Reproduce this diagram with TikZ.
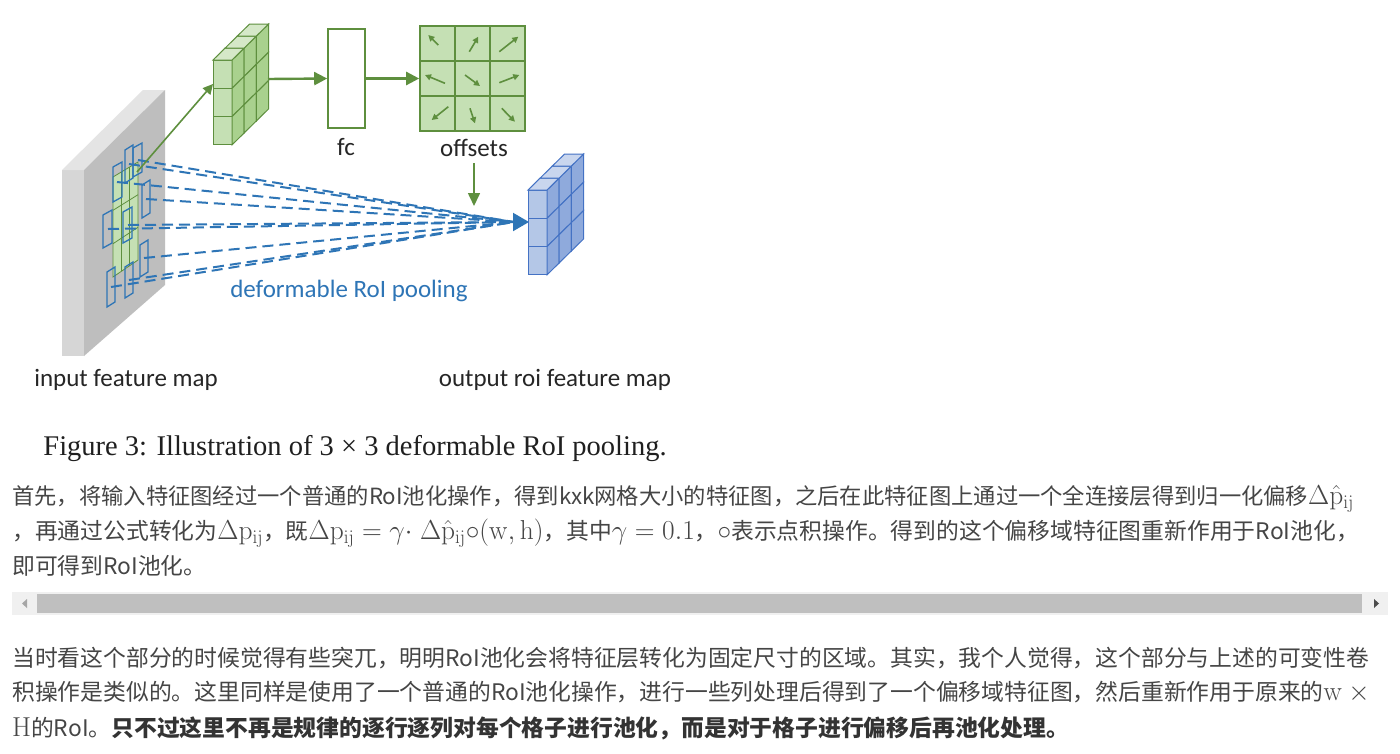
\RequirePackage{fix-cm}
\documentclass[tikz,border=0pt]{standalone}
\usepackage[no-math]{fontspec}
\newfontfamily\cjk{Noto Sans CJK SC}
\newfontfamily\capfont{Liberation Serif}
\newfontfamily\lblfont{Carlito}
\usetikzlibrary{arrows.meta}
\definecolor{gline}{HTML}{5E8F3E}
\definecolor{gfront}{HTML}{C5E0B4}
\definecolor{gside}{HTML}{A9D18E}
\definecolor{gtop}{HTML}{D5E8C8}
\definecolor{bline}{HTML}{2E75B6}
\definecolor{bfront}{HTML}{B4C7E7}
\definecolor{bside}{HTML}{8FAADC}
\definecolor{btop}{HTML}{C9D6EE}
\definecolor{bedge}{HTML}{4472C4}
\definecolor{txt}{HTML}{454545}
\definecolor{slabfront}{HTML}{D6D6D6}
\definecolor{slabtop}{HTML}{E4E4E4}
\definecolor{slabside}{HTML}{BEBEBE}
\newcommand{\cubeslab}[6]{%
  \foreach \i in {0,1,2}{%
    \filldraw[fill=#3,draw=#6,line width=1pt] (#1,{#2+\i*28.3}) rectangle ++(19,28.3);
    \foreach \j in {0,1,2}{%
      \filldraw[fill=#4,draw=#6,line width=1pt] ({#1+19+\j*12.2},{#2+\i*28.3-\j*12}) -- ++(12.2,-12) -- ++(0,28.3) -- ++(-12.2,12) -- cycle;
    }
  }
  \foreach \j in {0,1,2}{%
    \filldraw[fill=#5,draw=#6,line width=1pt] ({#1+\j*12.2},{#2-\j*12}) -- ++(19,0) -- ++(12.2,-12) -- ++(-19,0) -- cycle;
  }
}
\newcommand{\binbox}[4]{% x0 x1 y0 y1
  \draw[bline,line width=1.3pt] (#1,{#3+5}) -- (#2,#3) -- (#2,{#4-5}) -- (#1,#4) -- cycle;
}
\newcommand{\mth}[1]{\smash{\fontsize{27.4}{27}\selectfont$#1$}}
\tikzset{
  body/.style={anchor=base west, inner sep=0, text=txt, font=\cjk\fontsize{22.8}{27}\selectfont},
  lbl/.style={anchor=base, inner sep=0, text=black!85, font=\lblfont\fontsize{25}{30}\selectfont},
  garrow/.style={draw=gline, line width=2.4pt, -{Triangle[length=13pt,width=13pt]}},
  smallarrow/.style={draw=gline, line width=1.6pt, -{Triangle[length=6pt,width=6pt]}},
  bdash/.style={draw=bline, line width=2pt, dash pattern=on 11pt off 6pt},
}
\begin{document}
\begin{tikzpicture}[x=1pt,y=-1pt]
\fill[white] (0,0) rectangle (1400,753);
\useasboundingbox (0,0) rectangle (1400,753);

% input feature map slab
\fill[slabfront] (62,170) rectangle (84,356);
\fill[slabtop] (62,170) -- (143,90) -- (165,90) -- (84,170) -- cycle;
\fill[slabside] (84,170) -- (165,90) -- (165,285) -- (84,356) -- cycle;

% green RoI grid on the slab
\filldraw[fill=gfront,draw=gline,line width=0.8pt] (113,177) -- (138,162) -- (138,260) -- (113,277) -- cycle;
\draw[gline,line width=0.8pt] (121.3,172) -- (121.3,271.3) (129.7,167) -- (129.7,265.7);
\draw[gline,line width=0.8pt] (113,210.3) -- (138,194.7) (113,243.7) -- (138,227.3);

% deformed bins
\binbox{113}{122}{162}{202}
\binbox{125}{133}{145}{183}
\binbox{133}{142}{143}{177}
\binbox{142}{150}{180}{218}
\binbox{103}{112}{210}{248}
\binbox{123}{132}{207}{243}
\binbox{140}{148}{240}{277}
\binbox{107}{115}{267}{307}
\binbox{125}{133}{262}{298}

% dashed lines to output
\coordinate (tip) at (514,222);
\coordinate (b1) at (117,182);
\coordinate (b2) at (129,164);
\coordinate (b3) at (138,160);
\coordinate (b4) at (146,199);
\coordinate (b5) at (108,229);
\coordinate (b6) at (128,225);
\coordinate (b7) at (144,258);
\coordinate (b8) at (111,287);
\coordinate (b9) at (129,280);
\foreach \b in {b1,b2,b3,b4,b5,b6,b7,b8,b9}{\draw[bdash] (\b) -- (tip);}
\coordinate (ahS) at (505,222);
\coordinate (ahE) at (529,222);
\draw[draw=bline,line width=2pt,-{Triangle[length=16pt,width=18pt]}] (ahS) -- (ahE);

% green line from RoI to pooled block
\coordinate (roiTR) at (137,172);
\coordinate (gblkL) at (213,84);
\draw[draw=gline,line width=1.6pt,-{Triangle[length=10pt,width=10pt]}] (roiTR) -- (gblkL);

% green pooled block
\cubeslab{213}{60}{gfront}{gside}{gtop}{gline}
\coordinate (gblkR) at (268,79);

% fc
\node[draw=gline,line width=1.6pt,fill=white,minimum width=37pt,minimum height=99pt,inner sep=0] (fc) at (346.5,78.5) {};
\draw[garrow] (gblkR) -- (fc.west);

% offsets grid
\node[draw=gline,line width=1.6pt,fill=gfront,minimum width=105pt,minimum height=105pt,inner sep=0] (off) at (472.5,78.5) {};
\draw[gline,line width=1.6pt] (455,26) -- (455,131) (490,26) -- (490,131) (420,61) -- (525,61) (420,96) -- (525,96);
\draw[garrow] (fc.east) -- (off.west);
\draw[smallarrow] (438.3,45) -- (428.3,35);
\draw[smallarrow] (469.3,51.7) -- (478.3,36.7);
\draw[smallarrow] (499.3,51.7) -- (518.3,36.7);
\draw[smallarrow] (445,83.3) -- (425,75);
\draw[smallarrow] (465,75) -- (480,86);
\draw[smallarrow] (499.3,82.7) -- (519.3,75);
\draw[smallarrow] (448.3,106.7) -- (431.7,120);
\draw[smallarrow] (470,108.3) -- (475,123.3);
\draw[smallarrow] (501.7,108.3) -- (515,121.7);

\node[lbl] (fclbl) at (346,155) {fc};
\node[lbl] (offlbl) at (474,156) {offsets};
\coordinate (offS) at (474,163);
\coordinate (offE) at (474,206);
\draw[draw=gline,line width=1.6pt,-{Triangle[length=13pt,width=12pt]}] (offS) -- (offE);

% blue output block
\cubeslab{528}{190}{bfront}{bside}{btop}{bedge}

% labels
\node[lbl,text=bline] (dlbl) at (349,297) {deformable RoI pooling};
\node[lbl] (inlbl) at (126,386) {input feature map};
\node[lbl] (outlbl) at (555,386) {output roi feature map};

% caption
\node[anchor=base,inner sep=0,font=\capfont\fontsize{28.5}{34}\selectfont,text=black!88] (cap) at (355,455) {Figure 3: Illustration of 3 × 3 deformable RoI pooling.};

% paragraph 1
\node[body,font=\cjk\fontsize{22.3}{27}\selectfont] (p1a) at (12,504) {首先，将输入特征图经过一个普通的RoI池化操作，得到kxk网格大小的特征图，之后在此特征图上通过一个全连接层得到归一化偏移\mth{\Delta\hat{\mathrm{p}}_{\mathrm{ij}}}};
\node[body] (p1b) at (12,539) {，再通过公式转化为\mth{\Delta\mathrm{p}_{\mathrm{ij}}}，既\mth{\Delta\mathrm{p}_{\mathrm{ij}}=\gamma{\cdot}\;\Delta\hat{\mathrm{p}}_{\mathrm{ij}}{\circ}(\mathrm{w},\mathrm{h})}，其中\mth{\gamma=0.1}，\mth{\circ}表示点积操作。得到的这个偏移域特征图重新作用于RoI池化，};
\node[body] (p1c) at (12,574) {即可得到RoI池化。};

% scrollbar
\fill[black!6] (12,592) rectangle (1388,615);
\fill[black!25] (37,594) rectangle (1362,613);
\fill[black!35] (22,603.5) -- (27,599) -- (27,608) -- cycle;
\fill[black!70] (1379,603.5) -- (1374,599) -- (1374,608) -- cycle;

% paragraph 2
\node[body] (p2a) at (12,666) {当时看这个部分的时候觉得有些突兀，明明RoI池化会将特征层转化为固定尺寸的区域。其实，我个人觉得，这个部分与上述的可变性卷};
\node[body] (p2b) at (12,700) {积操作是类似的。这里同样是使用了一个普通的RoI池化操作，进行一些列处理后得到了一个偏移域特征图，然后重新作用于原来的\mth{\mathrm{w}\times{}}};
\node[body] (p2c) at (12,736) {\mth{\mathrm{H}}的RoI。{\bfseries\color{black!80}只不过这里不再是规律的逐行逐列对每个格子进行池化，而是对于格子进行偏移后再池化处理。}};
\end{tikzpicture}
\end{document}
